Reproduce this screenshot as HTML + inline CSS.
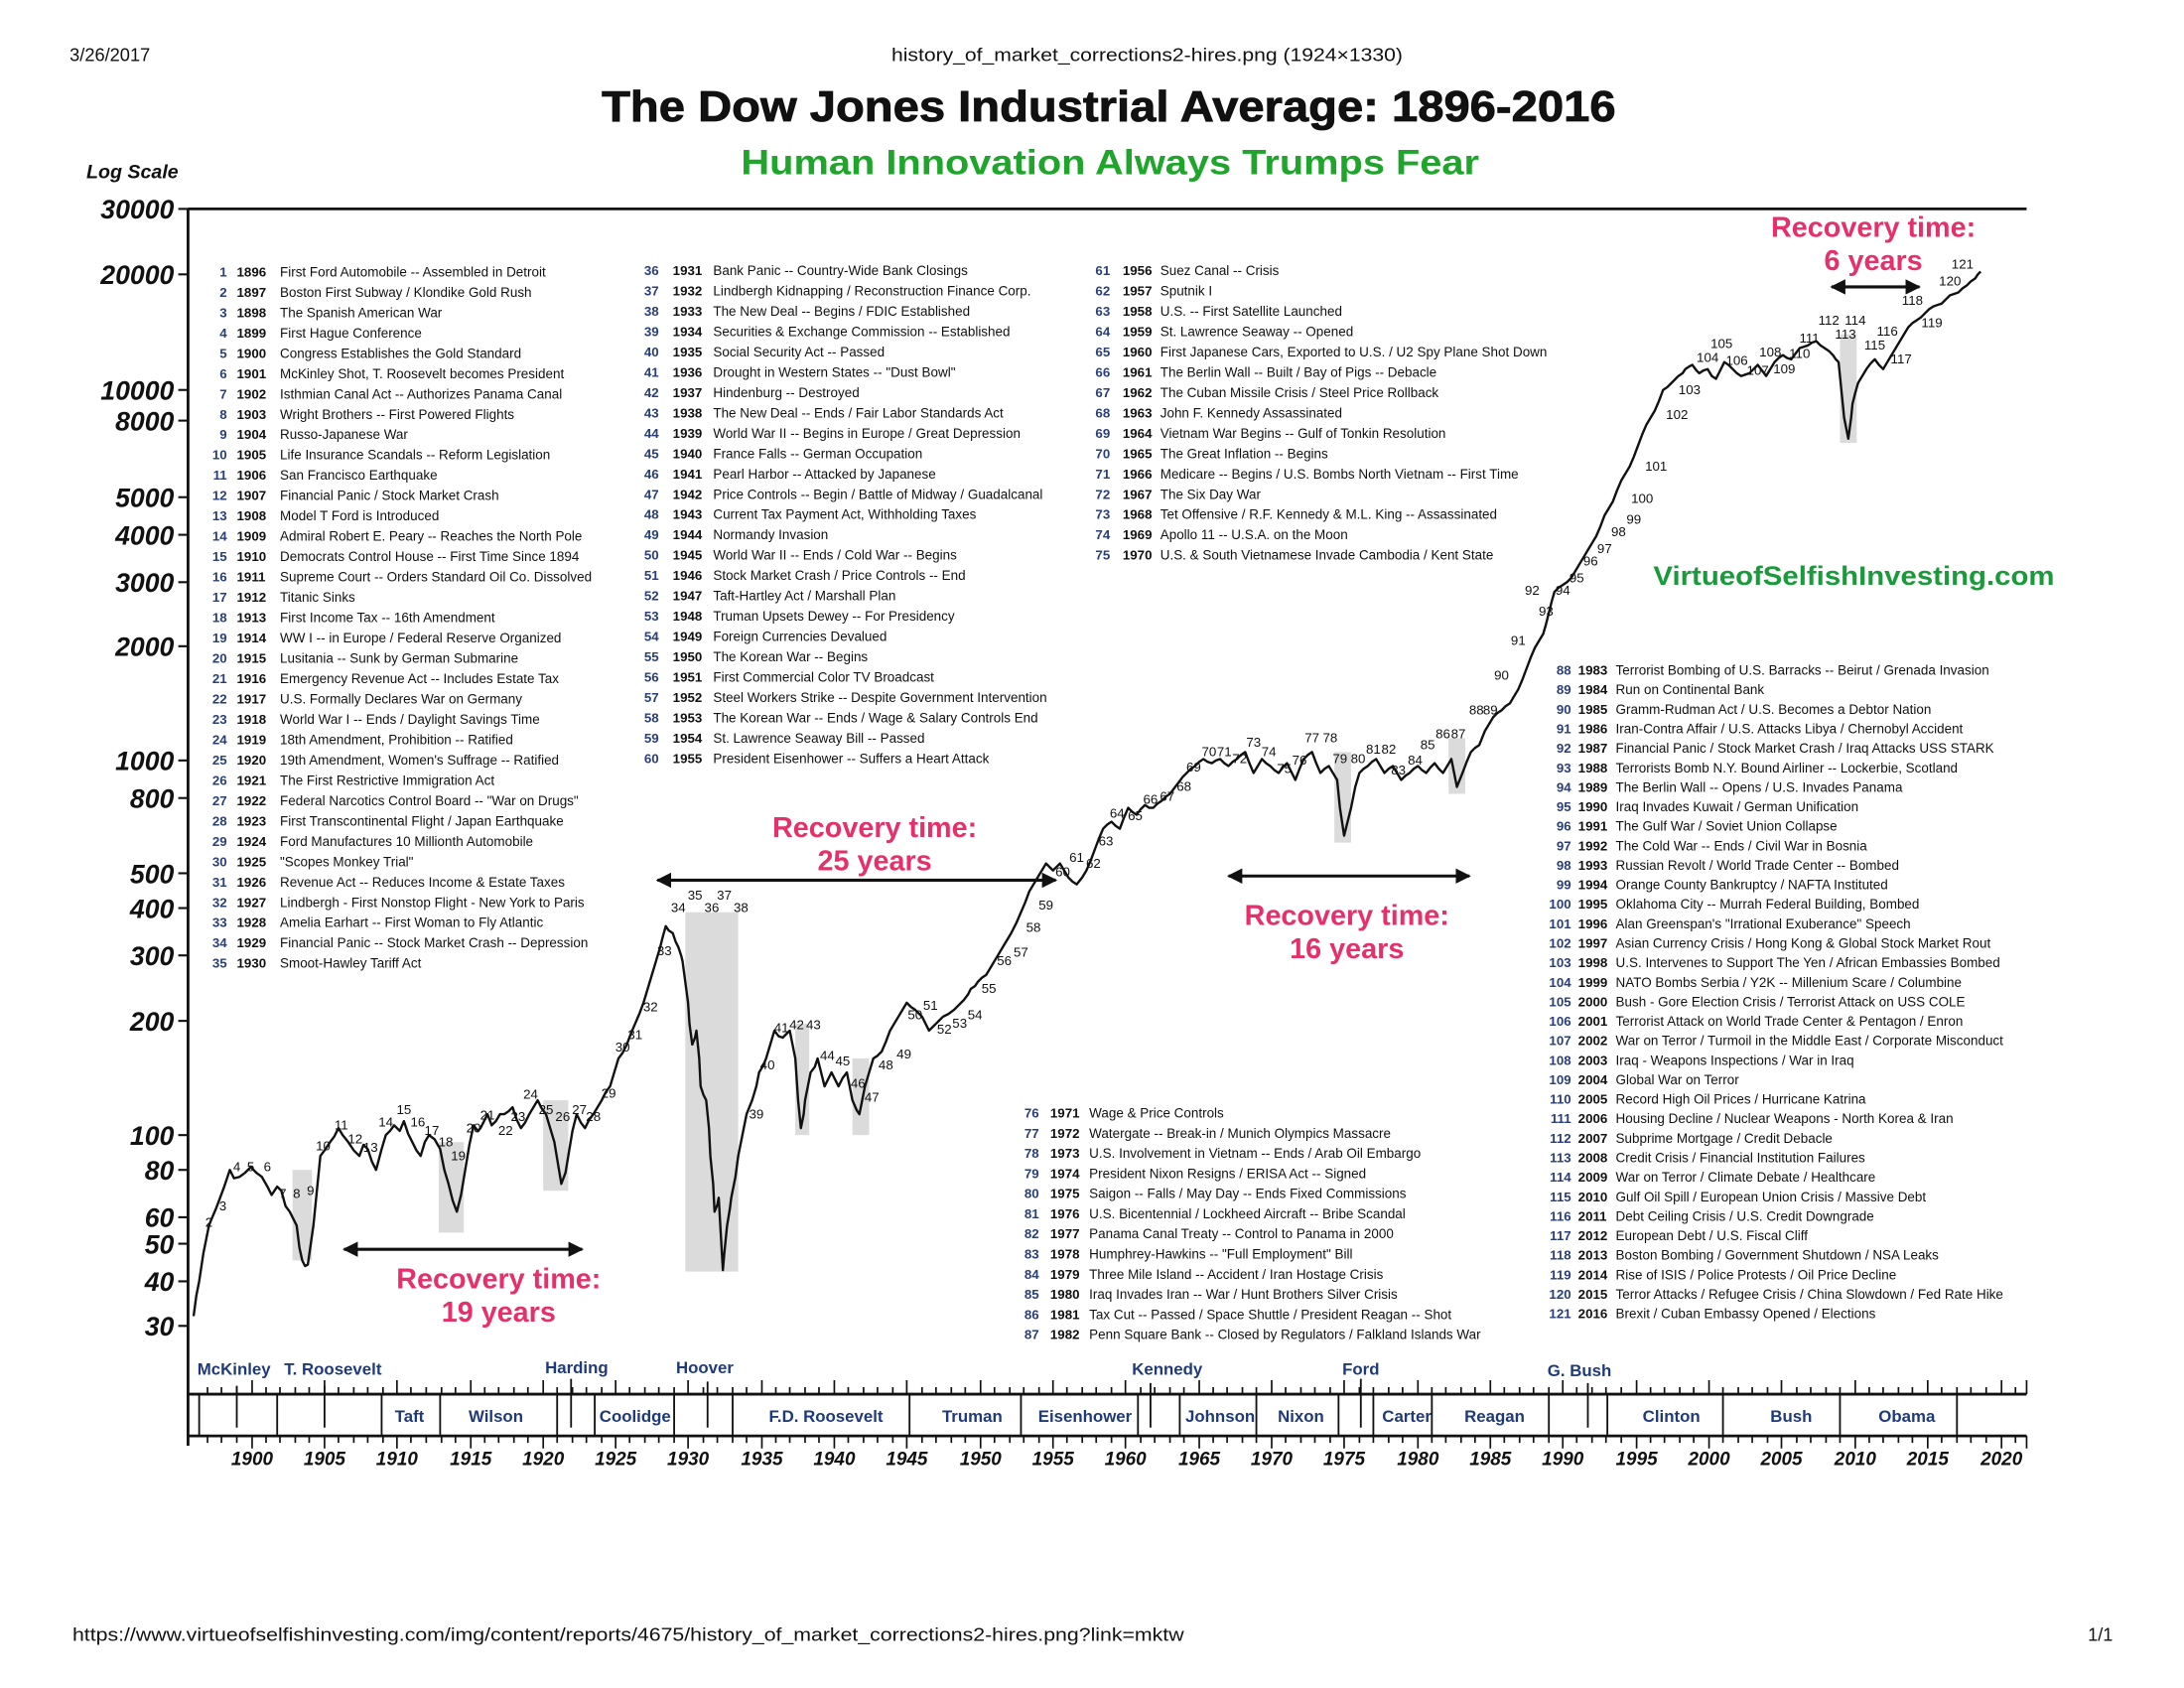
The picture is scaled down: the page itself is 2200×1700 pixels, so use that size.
<!DOCTYPE html>
<html><head><meta charset="utf-8"><style>
html,body{margin:0;padding:0;background:#fff;}
svg{display:block;font-family:"Liberation Sans",Arial,sans-serif;}
.n{font-size:9.5px;font-weight:bold;fill:#2a3f7a;}
.yr{font-size:9.5px;font-weight:bold;fill:#111;}
.tx{font-size:9.6px;fill:#111;}
.ev{font-size:9.5px;fill:#111;}
.rec{font-size:20.5px;font-weight:bold;fill:#e5306a;text-anchor:middle;}
.yt{font-size:19px;font-weight:bold;font-style:italic;fill:#111;text-anchor:end;}
.xt{font-size:13.5px;font-weight:bold;font-style:italic;fill:#111;text-anchor:middle;}
.pr{font-size:12px;font-weight:bold;fill:#1f3a7a;text-anchor:middle;}
</style></head><body>
<svg width="2200" height="1700" viewBox="0 0 1568 1212" preserveAspectRatio="none" xmlns="http://www.w3.org/2000/svg">
<rect width="1568" height="1212" fill="#fff"/>
<text x="50" y="44" font-size="13" fill="#111">3/26/2017</text>
<text x="640" y="44" font-size="13" fill="#111" textLength="367" lengthAdjust="spacingAndGlyphs">history_of_market_corrections2-hires.png (1924×1330)</text>
<text x="52" y="1178" font-size="13" fill="#111" textLength="798" lengthAdjust="spacingAndGlyphs">https://www.virtueofselfishinvesting.com/img/content/reports/4675/history_of_market_corrections2-hires.png?link=mktw</text>
<text x="1517" y="1178" font-size="13" fill="#111" text-anchor="end">1/1</text>

<text x="432" y="87" font-size="31" font-weight="bold" fill="#111" stroke="#111" stroke-width="0.6" textLength="728" lengthAdjust="spacingAndGlyphs">The Dow Jones Industrial Average: 1896-2016</text>
<text x="532" y="125" font-size="25" font-weight="bold" fill="#1fa52b" textLength="530" lengthAdjust="spacingAndGlyphs">Human Innovation Always Trumps Fear</text>
<text x="62" y="128" font-size="14" font-weight="bold" font-style="italic" fill="#111">Log Scale</text>

<g fill="#ccc" opacity="0.7">
<rect x="210" y="840" width="14" height="65"/>
<rect x="315" y="820" width="18" height="65"/>
<rect x="390" y="790" width="18" height="65"/>
<rect x="492" y="655" width="38" height="258"/>
<rect x="571" y="735" width="10" height="80"/>
<rect x="612" y="760" width="12" height="55"/>
<rect x="958" y="540" width="12" height="65"/>
<rect x="1040" y="530" width="12" height="40"/>
<rect x="1321" y="240" width="12" height="78"/>
</g>

<g stroke="#111" fill="none">
<line x1="135" y1="150" x2="1455" y2="150" stroke-width="2"/>
<line x1="135" y1="150" x2="135" y2="1038" stroke-width="2"/>
<line x1="135" y1="1001" x2="1455" y2="1001" stroke-width="2"/>
<line x1="135" y1="1031" x2="1455" y2="1031" stroke-width="2"/>
</g>
<g stroke="#111" stroke-width="1.5">
<line x1="128" y1="150" x2="135" y2="150"/><line x1="128" y1="197" x2="135" y2="197"/><line x1="128" y1="280" x2="135" y2="280"/><line x1="128" y1="302" x2="135" y2="302"/><line x1="128" y1="357" x2="135" y2="357"/><line x1="128" y1="384" x2="135" y2="384"/><line x1="128" y1="418" x2="135" y2="418"/><line x1="128" y1="464" x2="135" y2="464"/><line x1="128" y1="546" x2="135" y2="546"/><line x1="128" y1="573" x2="135" y2="573"/><line x1="128" y1="627" x2="135" y2="627"/><line x1="128" y1="652" x2="135" y2="652"/><line x1="128" y1="686" x2="135" y2="686"/><line x1="128" y1="733" x2="135" y2="733"/><line x1="128" y1="815" x2="135" y2="815"/><line x1="128" y1="840" x2="135" y2="840"/><line x1="128" y1="874" x2="135" y2="874"/><line x1="128" y1="893" x2="135" y2="893"/><line x1="128" y1="920" x2="135" y2="920"/><line x1="128" y1="952" x2="135" y2="952"/>
</g>
<g class="yt">
<text class="yt" x="125" y="157">30000</text><text class="yt" x="125" y="204">20000</text><text class="yt" x="125" y="287">10000</text><text class="yt" x="125" y="309">8000</text><text class="yt" x="125" y="364">5000</text><text class="yt" x="125" y="391">4000</text><text class="yt" x="125" y="425">3000</text><text class="yt" x="125" y="471">2000</text><text class="yt" x="125" y="553">1000</text><text class="yt" x="125" y="580">800</text><text class="yt" x="125" y="634">500</text><text class="yt" x="125" y="659">400</text><text class="yt" x="125" y="693">300</text><text class="yt" x="125" y="740">200</text><text class="yt" x="125" y="822">100</text><text class="yt" x="125" y="847">80</text><text class="yt" x="125" y="881">60</text><text class="yt" x="125" y="900">50</text><text class="yt" x="125" y="927">40</text><text class="yt" x="125" y="959">30</text>
</g>

<path stroke="#111" stroke-width="1.2" fill="none" d="
M149 1001v-5M159 1001v-5M170 1001v-5M191 1001v-5M201 1001v-5M212 1001v-5M222 1001v-5M243 1001v-5M254 1001v-5M264 1001v-5M275 1001v-5M295 1001v-5M306 1001v-5M317 1001v-5M327 1001v-5M348 1001v-5M358 1001v-5M369 1001v-5M379 1001v-5M400 1001v-5M411 1001v-5M421 1001v-5M432 1001v-5M452 1001v-5M463 1001v-5M473 1001v-5M484 1001v-5M505 1001v-5M515 1001v-5M526 1001v-5M536 1001v-5M557 1001v-5M567 1001v-5M578 1001v-5M588 1001v-5M609 1001v-5M620 1001v-5M630 1001v-5M641 1001v-5M662 1001v-5M672 1001v-5M683 1001v-5M693 1001v-5M714 1001v-5M725 1001v-5M735 1001v-5M746 1001v-5M766 1001v-5M777 1001v-5M787 1001v-5M798 1001v-5M819 1001v-5M829 1001v-5M840 1001v-5M850 1001v-5M871 1001v-5M881 1001v-5M892 1001v-5M902 1001v-5M923 1001v-5M934 1001v-5M944 1001v-5M955 1001v-5M976 1001v-5M986 1001v-5M997 1001v-5M1007 1001v-5M1028 1001v-5M1038 1001v-5M1049 1001v-5M1059 1001v-5M1080 1001v-5M1091 1001v-5M1101 1001v-5M1112 1001v-5M1132 1001v-5M1143 1001v-5M1153 1001v-5M1164 1001v-5M1185 1001v-5M1195 1001v-5M1206 1001v-5M1216 1001v-5M1237 1001v-5M1248 1001v-5M1258 1001v-5M1269 1001v-5M1290 1001v-5M1300 1001v-5M1311 1001v-5M1321 1001v-5M1342 1001v-5M1352 1001v-5M1363 1001v-5M1373 1001v-5M1394 1001v-5M1405 1001v-5M1415 1001v-5M1426 1001v-5M1447 1001v-5
M181 1001v-10M233 1001v-10M285 1001v-10M338 1001v-10M390 1001v-10M442 1001v-10M494 1001v-10M547 1001v-10M599 1001v-10M651 1001v-10M704 1001v-10M756 1001v-10M808 1001v-10M861 1001v-10M913 1001v-10M965 1001v-10M1018 1001v-10M1070 1001v-10M1122 1001v-10M1175 1001v-10M1227 1001v-10M1279 1001v-10M1332 1001v-10M1384 1001v-10M1437 1001v-10
M149 1031v5M159 1031v5M170 1031v5M191 1031v5M201 1031v5M212 1031v5M222 1031v5M243 1031v5M254 1031v5M264 1031v5M275 1031v5M295 1031v5M306 1031v5M317 1031v5M327 1031v5M348 1031v5M358 1031v5M369 1031v5M379 1031v5M400 1031v5M411 1031v5M421 1031v5M432 1031v5M452 1031v5M463 1031v5M473 1031v5M484 1031v5M505 1031v5M515 1031v5M526 1031v5M536 1031v5M557 1031v5M567 1031v5M578 1031v5M588 1031v5M609 1031v5M620 1031v5M630 1031v5M641 1031v5M662 1031v5M672 1031v5M683 1031v5M693 1031v5M714 1031v5M725 1031v5M735 1031v5M746 1031v5M766 1031v5M777 1031v5M787 1031v5M798 1031v5M819 1031v5M829 1031v5M840 1031v5M850 1031v5M871 1031v5M881 1031v5M892 1031v5M902 1031v5M923 1031v5M934 1031v5M944 1031v5M955 1031v5M976 1031v5M986 1031v5M997 1031v5M1007 1031v5M1028 1031v5M1038 1031v5M1049 1031v5M1059 1031v5M1080 1031v5M1091 1031v5M1101 1031v5M1112 1031v5M1132 1031v5M1143 1031v5M1153 1031v5M1164 1031v5M1185 1031v5M1195 1031v5M1206 1031v5M1216 1031v5M1237 1031v5M1248 1031v5M1258 1031v5M1269 1031v5M1290 1031v5M1300 1031v5M1311 1031v5M1321 1031v5M1342 1031v5M1352 1031v5M1363 1031v5M1373 1031v5M1394 1031v5M1405 1031v5M1415 1031v5M1426 1031v5M1447 1031v5
M181 1031v9M233 1031v9M285 1031v9M338 1031v9M390 1031v9M442 1031v9M494 1031v9M547 1031v9M599 1031v9M651 1031v9M704 1031v9M756 1031v9M808 1031v9M861 1031v9M913 1031v9M965 1031v9M1018 1031v9M1070 1031v9M1122 1031v9M1175 1031v9M1227 1031v9M1279 1031v9M1332 1031v9M1384 1031v9M1437 1031v9M1455 1031v9M1455 1001v-10
"/>
<path stroke="#111" stroke-width="1.3" fill="none" d="M143 1001v30M199 1001v30M274 1001v30M316 1001v30M400 1001v30M427 1001v30M484 1001v30M526 1001v30M653 1001v30M733 1001v30M817 1001v30M847 1001v30M902 1001v30M961 1001v30M986 1001v30M1028 1001v30M1112 1001v30M1154 1001v30M1237 1001v30M1321 1001v30M1405 1001v30
M170 995v30M233 995v30M410 990v35M508 992v33M826 993v32M977 990v35M1140 993v32"/>
<g class="pr">
<text x="168" y="987">McKinley</text><text x="239" y="987">T. Roosevelt</text><text x="414" y="986">Harding</text><text x="506" y="986">Hoover</text><text x="838" y="987">Kennedy</text><text x="977" y="987">Ford</text><text x="1134" y="988">G. Bush</text>
<text x="294" y="1021">Taft</text><text x="356" y="1021">Wilson</text><text x="456" y="1021">Coolidge</text><text x="593" y="1021">F.D. Roosevelt</text><text x="698" y="1021">Truman</text><text x="779" y="1021">Eisenhower</text><text x="876" y="1021">Johnson</text><text x="934" y="1021">Nixon</text><text x="1010" y="1021">Carter</text><text x="1073" y="1021">Reagan</text><text x="1200" y="1021">Clinton</text><text x="1286" y="1021">Bush</text><text x="1369" y="1021">Obama</text>
</g>
<g class="xt">
<text x="181" y="1052">1900</text><text x="233" y="1052">1905</text><text x="285" y="1052">1910</text><text x="338" y="1052">1915</text><text x="390" y="1052">1920</text><text x="442" y="1052">1925</text><text x="494" y="1052">1930</text><text x="547" y="1052">1935</text><text x="599" y="1052">1940</text><text x="651" y="1052">1945</text><text x="704" y="1052">1950</text><text x="756" y="1052">1955</text><text x="808" y="1052">1960</text><text x="861" y="1052">1965</text><text x="913" y="1052">1970</text><text x="965" y="1052">1975</text><text x="1018" y="1052">1980</text><text x="1070" y="1052">1985</text><text x="1122" y="1052">1990</text><text x="1175" y="1052">1995</text><text x="1227" y="1052">2000</text><text x="1279" y="1052">2005</text><text x="1332" y="1052">2010</text><text x="1384" y="1052">2015</text><text x="1437" y="1052">2020</text>
</g>

<polyline fill="none" stroke="#111" stroke-width="1.7" stroke-linejoin="round" points="139,945 141,930 143,920 146,900 148,890 150,880 152,875 155,868 158,860 161,852 165,840 168,846 172,845 176,842 180,838 184,842 188,845 192,852 195,858 199,852 202,855 205,866 208,870 211,876 213,880 215,896 217,905 219,909 221,908 223,894 225,880 227,860 230,830 233,826 237,820 240,816 243,810 246,815 250,820 254,826 258,830 261,822 264,825 267,834 270,840 274,825 277,815 280,812 283,808 287,812 290,805 293,814 296,820 299,826 302,830 305,820 308,815 312,818 316,825 319,840 322,850 325,862 328,870 331,858 334,840 337,822 340,808 343,812 345,810 348,804 350,800 353,808 356,805 359,800 362,800 365,798 368,795 371,804 374,810 377,806 380,800 383,795 386,790 389,796 392,800 395,810 398,820 401,838 403,850 406,842 408,830 411,812 414,800 417,806 420,810 423,804 426,800 429,795 432,790 435,784 438,780 441,770 444,760 447,756 450,750 453,742 456,735 459,728 462,720 465,710 468,700 471,690 474,680 476,672 478,665 480,668 483,670 485,676 487,680 489,686 490,690 492,705 494,720 495,735 497,750 499,745 500,740 502,760 503,780 505,786 507,790 509,810 510,830 512,850 513,870 515,865 516,860 518,895 519,912 520,900 522,880 524,868 525,860 528,845 530,830 533,815 536,800 538,795 540,790 543,780 545,770 548,765 550,760 553,750 556,740 559,744 562,745 565,742 567,740 569,750 571,760 573,790 575,810 577,800 578,790 580,780 582,770 585,766 587,760 590,772 592,780 595,774 597,770 600,776 602,780 605,774 608,770 610,780 612,790 615,797 617,800 619,790 621,780 624,770 627,760 630,758 633,755 636,748 639,740 642,735 645,730 648,725 651,720 654,723 657,725 660,728 662,730 665,736 667,740 670,737 672,735 675,732 677,730 681,728 685,725 688,722 692,718 695,714 697,710 700,708 702,705 705,702 708,700 711,695 714,690 717,685 720,680 723,675 726,670 730,662 733,655 736,648 739,640 742,635 745,630 748,625 751,620 754,623 756,625 759,622 761,620 764,625 767,630 770,633 773,635 777,630 780,625 783,618 786,610 789,602 792,595 795,592 798,590 801,593 804,595 807,587 810,580 813,583 816,585 819,581 822,578 825,580 828,580 831,577 834,575 837,572 840,570 843,566 846,562 849,558 852,555 855,552 858,550 861,547 864,545 867,547 870,548 873,546 876,545 879,548 882,550 885,547 888,545 891,542 894,540 897,548 900,555 903,550 906,545 909,548 912,550 915,553 918,555 921,551 924,548 927,554 930,560 933,552 936,545 939,542 942,540 945,548 948,555 951,552 954,550 957,555 960,560 962,580 965,600 967,592 970,580 973,565 976,555 979,552 982,550 985,547 988,545 991,550 994,555 997,552 1000,550 1003,555 1006,560 1009,557 1012,555 1015,552 1018,550 1021,553 1024,555 1027,551 1030,548 1033,552 1036,555 1039,550 1042,545 1044,555 1046,565 1048,560 1050,555 1053,547 1056,540 1059,537 1062,535 1064,530 1066,525 1069,520 1072,515 1075,512 1078,510 1081,507 1084,505 1087,500 1090,495 1093,488 1096,480 1099,472 1102,465 1105,460 1108,455 1110,448 1112,440 1114,432 1116,425 1119,422 1122,420 1125,418 1128,415 1131,410 1134,405 1137,400 1140,395 1143,390 1146,385 1149,378 1152,370 1155,365 1158,360 1161,352 1164,345 1167,340 1170,335 1173,328 1176,320 1179,312 1182,305 1185,300 1188,295 1191,288 1194,280 1197,278 1200,275 1203,272 1205,270 1208,268 1210,265 1213,263 1215,262 1218,266 1220,268 1223,266 1226,265 1229,270 1232,272 1235,266 1238,260 1241,262 1244,265 1247,268 1250,270 1253,269 1256,268 1259,265 1262,262 1265,266 1268,270 1271,265 1274,260 1277,257 1280,255 1283,257 1286,258 1289,254 1292,250 1295,249 1298,248 1301,246 1304,245 1307,248 1310,250 1313,252 1316,255 1318,258 1320,260 1322,280 1324,300 1326,310 1327,315 1329,300 1330,290 1332,282 1334,275 1337,270 1340,265 1343,261 1346,258 1349,262 1352,265 1355,260 1358,255 1361,250 1364,245 1367,240 1370,235 1373,232 1376,230 1379,228 1382,225 1385,222 1388,220 1391,219 1394,218 1397,215 1400,212 1403,211 1406,210 1409,207 1412,205 1415,202 1418,200 1420,197 1422,195"/>

<g class="ev" text-anchor="middle">
<text x="150" y="881">2</text><text x="160" y="869">3</text><text x="170" y="841">4</text><text x="180" y="841">5</text><text x="192" y="841">6</text><text x="203" y="860">7</text><text x="213" y="860">8</text><text x="223" y="858">9</text><text x="232" y="826">10</text><text x="245" y="811">11</text><text x="255" y="821">12</text><text x="266" y="827">13</text><text x="277" y="809">14</text><text x="290" y="800">15</text><text x="300" y="809">16</text><text x="310" y="815">17</text><text x="320" y="823">18</text><text x="329" y="833">19</text><text x="340" y="813">20</text><text x="350" y="804">21</text><text x="363" y="815">22</text><text x="372" y="805">23</text><text x="381" y="789">24</text><text x="392" y="800">25</text><text x="404" y="805">26</text><text x="416" y="800">27</text><text x="426" y="805">28</text><text x="437" y="788">29</text><text x="447" y="755">30</text><text x="456" y="746">31</text><text x="467" y="726">32</text><text x="477" y="686">33</text><text x="487" y="655">34</text><text x="499" y="646">35</text><text x="511" y="655">36</text><text x="520" y="646">37</text><text x="532" y="655">38</text><text x="543" y="803">39</text><text x="551" y="768">40</text><text x="561" y="741">41</text><text x="572" y="739">42</text><text x="584" y="739">43</text><text x="594" y="761">44</text><text x="605" y="765">45</text><text x="616" y="781">46</text><text x="626" y="791">47</text><text x="636" y="768">48</text><text x="649" y="760">49</text><text x="657" y="732">50</text><text x="668" y="725">51</text><text x="678" y="742">52</text><text x="689" y="738">53</text><text x="700" y="732">54</text><text x="710" y="713">55</text><text x="721" y="693">56</text><text x="733" y="687">57</text><text x="742" y="669">58</text><text x="751" y="653">59</text><text x="763" y="629">60</text><text x="773" y="619">61</text><text x="785" y="623">62</text><text x="794" y="607">63</text><text x="802" y="587">64</text><text x="815" y="589">65</text><text x="826" y="577">66</text><text x="838" y="575">67</text><text x="850" y="568">68</text><text x="857" y="554">69</text><text x="868" y="543">70</text><text x="879" y="543">71</text><text x="890" y="548">72</text><text x="900" y="536">73</text><text x="911" y="543">74</text><text x="922" y="555">75</text><text x="933" y="549">76</text><text x="942" y="533">77</text><text x="955" y="533">78</text><text x="962" y="548">79</text><text x="975" y="548">80</text><text x="986" y="541">81</text><text x="997" y="541">82</text><text x="1004" y="556">83</text><text x="1016" y="549">84</text><text x="1025" y="538">85</text><text x="1036" y="530">86</text><text x="1047" y="530">87</text><text x="1060" y="513">88</text><text x="1070" y="513">89</text><text x="1078" y="488">90</text><text x="1090" y="463">91</text><text x="1100" y="427">92</text><text x="1110" y="442">93</text><text x="1122" y="427">94</text><text x="1132" y="418">95</text><text x="1142" y="406">96</text><text x="1152" y="397">97</text><text x="1162" y="385">98</text><text x="1173" y="376">99</text><text x="1179" y="361">100</text><text x="1189" y="338">101</text><text x="1204" y="301">102</text><text x="1213" y="283">103</text><text x="1226" y="260">104</text><text x="1236" y="250">105</text><text x="1247" y="262">106</text><text x="1262" y="269">107</text><text x="1271" y="256">108</text><text x="1281" y="268">109</text><text x="1292" y="257">110</text><text x="1299" y="246">111</text><text x="1313" y="233">112</text><text x="1325" y="243">113</text><text x="1332" y="233">114</text><text x="1346" y="251">115</text><text x="1355" y="241">116</text><text x="1365" y="261">117</text><text x="1373" y="219">118</text><text x="1387" y="235">119</text><text x="1400" y="205">120</text><text x="1409" y="193">121</text>
</g>

<defs><marker id="ah" markerWidth="5" markerHeight="5" refX="4.5" refY="2.5" orient="auto-start-reverse" markerUnits="strokeWidth"><path d="M0,0 L5,2.5 L0,5 z" fill="#111"/></marker></defs>
<g stroke="#111" stroke-width="2.2">
<line x1="247" y1="897" x2="418" y2="897" marker-start="url(#ah)" marker-end="url(#ah)"/>
<line x1="472" y1="632" x2="758" y2="632" marker-start="url(#ah)" marker-end="url(#ah)"/>
<line x1="882" y1="629" x2="1055" y2="629" marker-start="url(#ah)" marker-end="url(#ah)"/>
<line x1="1315" y1="206" x2="1378" y2="206" marker-start="url(#ah)" marker-end="url(#ah)"/>
</g>
<text class="rec" x="358" y="925">Recovery time:</text><text class="rec" x="358" y="949">19 years</text>
<text class="rec" x="628" y="601">Recovery time:</text><text class="rec" x="628" y="625">25 years</text>
<text class="rec" x="967" y="664">Recovery time:</text><text class="rec" x="967" y="688">16 years</text>
<text class="rec" x="1345" y="170">Recovery time:</text><text class="rec" x="1345" y="194">6 years</text>
<text x="1187" y="420" font-size="19" font-weight="bold" fill="#1a9a3a" textLength="288" lengthAdjust="spacingAndGlyphs">VirtueofSelfishInvesting.com</text>

<text class="n" text-anchor="end"><tspan x="163" y="198.5">1</tspan><tspan x="163" dy="14.6">2</tspan><tspan x="163" dy="14.6">3</tspan><tspan x="163" dy="14.6">4</tspan><tspan x="163" dy="14.6">5</tspan><tspan x="163" dy="14.6">6</tspan><tspan x="163" dy="14.6">7</tspan><tspan x="163" dy="14.6">8</tspan><tspan x="163" dy="14.6">9</tspan><tspan x="163" dy="14.6">10</tspan><tspan x="163" dy="14.6">11</tspan><tspan x="163" dy="14.6">12</tspan><tspan x="163" dy="14.6">13</tspan><tspan x="163" dy="14.6">14</tspan><tspan x="163" dy="14.6">15</tspan><tspan x="163" dy="14.6">16</tspan><tspan x="163" dy="14.6">17</tspan><tspan x="163" dy="14.6">18</tspan><tspan x="163" dy="14.6">19</tspan><tspan x="163" dy="14.6">20</tspan><tspan x="163" dy="14.6">21</tspan><tspan x="163" dy="14.6">22</tspan><tspan x="163" dy="14.6">23</tspan><tspan x="163" dy="14.6">24</tspan><tspan x="163" dy="14.6">25</tspan><tspan x="163" dy="14.6">26</tspan><tspan x="163" dy="14.6">27</tspan><tspan x="163" dy="14.6">28</tspan><tspan x="163" dy="14.6">29</tspan><tspan x="163" dy="14.6">30</tspan><tspan x="163" dy="14.6">31</tspan><tspan x="163" dy="14.6">32</tspan><tspan x="163" dy="14.6">33</tspan><tspan x="163" dy="14.6">34</tspan><tspan x="163" dy="14.6">35</tspan></text>
<text class="yr"><tspan x="170" y="198.5">1896</tspan><tspan x="170" dy="14.6">1897</tspan><tspan x="170" dy="14.6">1898</tspan><tspan x="170" dy="14.6">1899</tspan><tspan x="170" dy="14.6">1900</tspan><tspan x="170" dy="14.6">1901</tspan><tspan x="170" dy="14.6">1902</tspan><tspan x="170" dy="14.6">1903</tspan><tspan x="170" dy="14.6">1904</tspan><tspan x="170" dy="14.6">1905</tspan><tspan x="170" dy="14.6">1906</tspan><tspan x="170" dy="14.6">1907</tspan><tspan x="170" dy="14.6">1908</tspan><tspan x="170" dy="14.6">1909</tspan><tspan x="170" dy="14.6">1910</tspan><tspan x="170" dy="14.6">1911</tspan><tspan x="170" dy="14.6">1912</tspan><tspan x="170" dy="14.6">1913</tspan><tspan x="170" dy="14.6">1914</tspan><tspan x="170" dy="14.6">1915</tspan><tspan x="170" dy="14.6">1916</tspan><tspan x="170" dy="14.6">1917</tspan><tspan x="170" dy="14.6">1918</tspan><tspan x="170" dy="14.6">1919</tspan><tspan x="170" dy="14.6">1920</tspan><tspan x="170" dy="14.6">1921</tspan><tspan x="170" dy="14.6">1922</tspan><tspan x="170" dy="14.6">1923</tspan><tspan x="170" dy="14.6">1924</tspan><tspan x="170" dy="14.6">1925</tspan><tspan x="170" dy="14.6">1926</tspan><tspan x="170" dy="14.6">1927</tspan><tspan x="170" dy="14.6">1928</tspan><tspan x="170" dy="14.6">1929</tspan><tspan x="170" dy="14.6">1930</tspan></text>
<text class="tx"><tspan x="201" y="198.5">First Ford Automobile -- Assembled in Detroit</tspan><tspan x="201" dy="14.6">Boston First Subway / Klondike Gold Rush</tspan><tspan x="201" dy="14.6">The Spanish American War</tspan><tspan x="201" dy="14.6">First Hague Conference</tspan><tspan x="201" dy="14.6">Congress Establishes the Gold Standard</tspan><tspan x="201" dy="14.6">McKinley Shot, T. Roosevelt becomes President</tspan><tspan x="201" dy="14.6">Isthmian Canal Act -- Authorizes Panama Canal</tspan><tspan x="201" dy="14.6">Wright Brothers -- First Powered Flights</tspan><tspan x="201" dy="14.6">Russo-Japanese War</tspan><tspan x="201" dy="14.6">Life Insurance Scandals -- Reform Legislation</tspan><tspan x="201" dy="14.6">San Francisco Earthquake</tspan><tspan x="201" dy="14.6">Financial Panic / Stock Market Crash</tspan><tspan x="201" dy="14.6">Model T Ford is Introduced</tspan><tspan x="201" dy="14.6">Admiral Robert E. Peary -- Reaches the North Pole</tspan><tspan x="201" dy="14.6">Democrats Control House -- First Time Since 1894</tspan><tspan x="201" dy="14.6">Supreme Court -- Orders Standard Oil Co. Dissolved</tspan><tspan x="201" dy="14.6">Titanic Sinks</tspan><tspan x="201" dy="14.6">First Income Tax -- 16th Amendment</tspan><tspan x="201" dy="14.6">WW I -- in Europe / Federal Reserve Organized</tspan><tspan x="201" dy="14.6">Lusitania -- Sunk by German Submarine</tspan><tspan x="201" dy="14.6">Emergency Revenue Act -- Includes Estate Tax</tspan><tspan x="201" dy="14.6">U.S. Formally Declares War on Germany</tspan><tspan x="201" dy="14.6">World War I -- Ends / Daylight Savings Time</tspan><tspan x="201" dy="14.6">18th Amendment, Prohibition -- Ratified</tspan><tspan x="201" dy="14.6">19th Amendment, Women's Suffrage -- Ratified</tspan><tspan x="201" dy="14.6">The First Restrictive Immigration Act</tspan><tspan x="201" dy="14.6">Federal Narcotics Control Board -- "War on Drugs"</tspan><tspan x="201" dy="14.6">First Transcontinental Flight / Japan Earthquake</tspan><tspan x="201" dy="14.6">Ford Manufactures 10 Millionth Automobile</tspan><tspan x="201" dy="14.6">"Scopes Monkey Trial"</tspan><tspan x="201" dy="14.6">Revenue Act -- Reduces Income &amp; Estate Taxes</tspan><tspan x="201" dy="14.6">Lindbergh - First Nonstop Flight - New York to Paris</tspan><tspan x="201" dy="14.6">Amelia Earhart -- First Woman to Fly Atlantic</tspan><tspan x="201" dy="14.6">Financial Panic -- Stock Market Crash -- Depression</tspan><tspan x="201" dy="14.6">Smoot-Hawley Tariff Act</tspan></text>

<text class="n" text-anchor="end"><tspan x="473" y="197.5">36</tspan><tspan x="473" dy="14.6">37</tspan><tspan x="473" dy="14.6">38</tspan><tspan x="473" dy="14.6">39</tspan><tspan x="473" dy="14.6">40</tspan><tspan x="473" dy="14.6">41</tspan><tspan x="473" dy="14.6">42</tspan><tspan x="473" dy="14.6">43</tspan><tspan x="473" dy="14.6">44</tspan><tspan x="473" dy="14.6">45</tspan><tspan x="473" dy="14.6">46</tspan><tspan x="473" dy="14.6">47</tspan><tspan x="473" dy="14.6">48</tspan><tspan x="473" dy="14.6">49</tspan><tspan x="473" dy="14.6">50</tspan><tspan x="473" dy="14.6">51</tspan><tspan x="473" dy="14.6">52</tspan><tspan x="473" dy="14.6">53</tspan><tspan x="473" dy="14.6">54</tspan><tspan x="473" dy="14.6">55</tspan><tspan x="473" dy="14.6">56</tspan><tspan x="473" dy="14.6">57</tspan><tspan x="473" dy="14.6">58</tspan><tspan x="473" dy="14.6">59</tspan><tspan x="473" dy="14.6">60</tspan></text>
<text class="yr"><tspan x="483" y="197.5">1931</tspan><tspan x="483" dy="14.6">1932</tspan><tspan x="483" dy="14.6">1933</tspan><tspan x="483" dy="14.6">1934</tspan><tspan x="483" dy="14.6">1935</tspan><tspan x="483" dy="14.6">1936</tspan><tspan x="483" dy="14.6">1937</tspan><tspan x="483" dy="14.6">1938</tspan><tspan x="483" dy="14.6">1939</tspan><tspan x="483" dy="14.6">1940</tspan><tspan x="483" dy="14.6">1941</tspan><tspan x="483" dy="14.6">1942</tspan><tspan x="483" dy="14.6">1943</tspan><tspan x="483" dy="14.6">1944</tspan><tspan x="483" dy="14.6">1945</tspan><tspan x="483" dy="14.6">1946</tspan><tspan x="483" dy="14.6">1947</tspan><tspan x="483" dy="14.6">1948</tspan><tspan x="483" dy="14.6">1949</tspan><tspan x="483" dy="14.6">1950</tspan><tspan x="483" dy="14.6">1951</tspan><tspan x="483" dy="14.6">1952</tspan><tspan x="483" dy="14.6">1953</tspan><tspan x="483" dy="14.6">1954</tspan><tspan x="483" dy="14.6">1955</tspan></text>
<text class="tx"><tspan x="512" y="197.5">Bank Panic -- Country-Wide Bank Closings</tspan><tspan x="512" dy="14.6">Lindbergh Kidnapping / Reconstruction Finance Corp.</tspan><tspan x="512" dy="14.6">The New Deal -- Begins / FDIC Established</tspan><tspan x="512" dy="14.6">Securities &amp; Exchange Commission -- Established</tspan><tspan x="512" dy="14.6">Social Security Act -- Passed</tspan><tspan x="512" dy="14.6">Drought in Western States -- "Dust Bowl"</tspan><tspan x="512" dy="14.6">Hindenburg -- Destroyed</tspan><tspan x="512" dy="14.6">The New Deal -- Ends / Fair Labor Standards Act</tspan><tspan x="512" dy="14.6">World War II -- Begins in Europe / Great Depression</tspan><tspan x="512" dy="14.6">France Falls -- German Occupation</tspan><tspan x="512" dy="14.6">Pearl Harbor -- Attacked by Japanese</tspan><tspan x="512" dy="14.6">Price Controls -- Begin / Battle of Midway / Guadalcanal</tspan><tspan x="512" dy="14.6">Current Tax Payment Act, Withholding Taxes</tspan><tspan x="512" dy="14.6">Normandy Invasion</tspan><tspan x="512" dy="14.6">World War II -- Ends / Cold War -- Begins</tspan><tspan x="512" dy="14.6">Stock Market Crash / Price Controls -- End</tspan><tspan x="512" dy="14.6">Taft-Hartley Act / Marshall Plan</tspan><tspan x="512" dy="14.6">Truman Upsets Dewey -- For Presidency</tspan><tspan x="512" dy="14.6">Foreign Currencies Devalued</tspan><tspan x="512" dy="14.6">The Korean War -- Begins</tspan><tspan x="512" dy="14.6">First Commercial Color TV Broadcast</tspan><tspan x="512" dy="14.6">Steel Workers Strike -- Despite Government Intervention</tspan><tspan x="512" dy="14.6">The Korean War -- Ends / Wage &amp; Salary Controls End</tspan><tspan x="512" dy="14.6">St. Lawrence Seaway Bill -- Passed</tspan><tspan x="512" dy="14.6">President Eisenhower -- Suffers a Heart Attack</tspan></text>

<text class="n" text-anchor="end"><tspan x="797" y="197.5">61</tspan><tspan x="797" dy="14.6">62</tspan><tspan x="797" dy="14.6">63</tspan><tspan x="797" dy="14.6">64</tspan><tspan x="797" dy="14.6">65</tspan><tspan x="797" dy="14.6">66</tspan><tspan x="797" dy="14.6">67</tspan><tspan x="797" dy="14.6">68</tspan><tspan x="797" dy="14.6">69</tspan><tspan x="797" dy="14.6">70</tspan><tspan x="797" dy="14.6">71</tspan><tspan x="797" dy="14.6">72</tspan><tspan x="797" dy="14.6">73</tspan><tspan x="797" dy="14.6">74</tspan><tspan x="797" dy="14.6">75</tspan></text>
<text class="yr"><tspan x="806" y="197.5">1956</tspan><tspan x="806" dy="14.6">1957</tspan><tspan x="806" dy="14.6">1958</tspan><tspan x="806" dy="14.6">1959</tspan><tspan x="806" dy="14.6">1960</tspan><tspan x="806" dy="14.6">1961</tspan><tspan x="806" dy="14.6">1962</tspan><tspan x="806" dy="14.6">1963</tspan><tspan x="806" dy="14.6">1964</tspan><tspan x="806" dy="14.6">1965</tspan><tspan x="806" dy="14.6">1966</tspan><tspan x="806" dy="14.6">1967</tspan><tspan x="806" dy="14.6">1968</tspan><tspan x="806" dy="14.6">1969</tspan><tspan x="806" dy="14.6">1970</tspan></text>
<text class="tx"><tspan x="833" y="197.5">Suez Canal -- Crisis</tspan><tspan x="833" dy="14.6">Sputnik I</tspan><tspan x="833" dy="14.6">U.S. -- First Satellite Launched</tspan><tspan x="833" dy="14.6">St. Lawrence Seaway -- Opened</tspan><tspan x="833" dy="14.6">First Japanese Cars, Exported to U.S. / U2 Spy Plane Shot Down</tspan><tspan x="833" dy="14.6">The Berlin Wall -- Built / Bay of Pigs -- Debacle</tspan><tspan x="833" dy="14.6">The Cuban Missile Crisis / Steel Price Rollback</tspan><tspan x="833" dy="14.6">John F. Kennedy Assassinated</tspan><tspan x="833" dy="14.6">Vietnam War Begins -- Gulf of Tonkin Resolution</tspan><tspan x="833" dy="14.6">The Great Inflation -- Begins</tspan><tspan x="833" dy="14.6">Medicare -- Begins / U.S. Bombs North Vietnam -- First Time</tspan><tspan x="833" dy="14.6">The Six Day War</tspan><tspan x="833" dy="14.6">Tet Offensive / R.F. Kennedy &amp; M.L. King -- Assassinated</tspan><tspan x="833" dy="14.6">Apollo 11 -- U.S.A. on the Moon</tspan><tspan x="833" dy="14.6">U.S. &amp; South Vietnamese Invade Cambodia / Kent State</tspan></text>

<text class="n" text-anchor="end"><tspan x="746" y="802.5">76</tspan><tspan x="746" dy="14.45">77</tspan><tspan x="746" dy="14.45">78</tspan><tspan x="746" dy="14.45">79</tspan><tspan x="746" dy="14.45">80</tspan><tspan x="746" dy="14.45">81</tspan><tspan x="746" dy="14.45">82</tspan><tspan x="746" dy="14.45">83</tspan><tspan x="746" dy="14.45">84</tspan><tspan x="746" dy="14.45">85</tspan><tspan x="746" dy="14.45">86</tspan><tspan x="746" dy="14.45">87</tspan></text>
<text class="yr"><tspan x="754" y="802.5">1971</tspan><tspan x="754" dy="14.45">1972</tspan><tspan x="754" dy="14.45">1973</tspan><tspan x="754" dy="14.45">1974</tspan><tspan x="754" dy="14.45">1975</tspan><tspan x="754" dy="14.45">1976</tspan><tspan x="754" dy="14.45">1977</tspan><tspan x="754" dy="14.45">1978</tspan><tspan x="754" dy="14.45">1979</tspan><tspan x="754" dy="14.45">1980</tspan><tspan x="754" dy="14.45">1981</tspan><tspan x="754" dy="14.45">1982</tspan></text>
<text class="tx"><tspan x="782" y="802.5">Wage &amp; Price Controls</tspan><tspan x="782" dy="14.45">Watergate -- Break-in / Munich Olympics Massacre</tspan><tspan x="782" dy="14.45">U.S. Involvement in Vietnam -- Ends / Arab Oil Embargo</tspan><tspan x="782" dy="14.45">President Nixon Resigns / ERISA Act -- Signed</tspan><tspan x="782" dy="14.45">Saigon -- Falls / May Day -- Ends Fixed Commissions</tspan><tspan x="782" dy="14.45">U.S. Bicentennial / Lockheed Aircraft -- Bribe Scandal</tspan><tspan x="782" dy="14.45">Panama Canal Treaty -- Control to Panama in 2000</tspan><tspan x="782" dy="14.45">Humphrey-Hawkins -- "Full Employment" Bill</tspan><tspan x="782" dy="14.45">Three Mile Island -- Accident / Iran Hostage Crisis</tspan><tspan x="782" dy="14.45">Iraq Invades Iran -- War / Hunt Brothers Silver Crisis</tspan><tspan x="782" dy="14.45">Tax Cut -- Passed / Space Shuttle / President Reagan -- Shot</tspan><tspan x="782" dy="14.45">Penn Square Bank -- Closed by Regulators / Falkland Islands War</tspan></text>

<text class="n" text-anchor="end"><tspan x="1128" y="484.5">88</tspan><tspan x="1128" dy="14">89</tspan><tspan x="1128" dy="14">90</tspan><tspan x="1128" dy="14">91</tspan><tspan x="1128" dy="14">92</tspan><tspan x="1128" dy="14">93</tspan><tspan x="1128" dy="14">94</tspan><tspan x="1128" dy="14">95</tspan><tspan x="1128" dy="14">96</tspan><tspan x="1128" dy="14">97</tspan><tspan x="1128" dy="14">98</tspan><tspan x="1128" dy="14">99</tspan><tspan x="1128" dy="14">100</tspan><tspan x="1128" dy="14">101</tspan><tspan x="1128" dy="14">102</tspan><tspan x="1128" dy="14">103</tspan><tspan x="1128" dy="14">104</tspan><tspan x="1128" dy="14">105</tspan><tspan x="1128" dy="14">106</tspan><tspan x="1128" dy="14">107</tspan><tspan x="1128" dy="14">108</tspan><tspan x="1128" dy="14">109</tspan><tspan x="1128" dy="14">110</tspan><tspan x="1128" dy="14">111</tspan><tspan x="1128" dy="14">112</tspan><tspan x="1128" dy="14">113</tspan><tspan x="1128" dy="14">114</tspan><tspan x="1128" dy="14">115</tspan><tspan x="1128" dy="14">116</tspan><tspan x="1128" dy="14">117</tspan><tspan x="1128" dy="14">118</tspan><tspan x="1128" dy="14">119</tspan><tspan x="1128" dy="14">120</tspan><tspan x="1128" dy="14">121</tspan></text>
<text class="yr"><tspan x="1133" y="484.5">1983</tspan><tspan x="1133" dy="14">1984</tspan><tspan x="1133" dy="14">1985</tspan><tspan x="1133" dy="14">1986</tspan><tspan x="1133" dy="14">1987</tspan><tspan x="1133" dy="14">1988</tspan><tspan x="1133" dy="14">1989</tspan><tspan x="1133" dy="14">1990</tspan><tspan x="1133" dy="14">1991</tspan><tspan x="1133" dy="14">1992</tspan><tspan x="1133" dy="14">1993</tspan><tspan x="1133" dy="14">1994</tspan><tspan x="1133" dy="14">1995</tspan><tspan x="1133" dy="14">1996</tspan><tspan x="1133" dy="14">1997</tspan><tspan x="1133" dy="14">1998</tspan><tspan x="1133" dy="14">1999</tspan><tspan x="1133" dy="14">2000</tspan><tspan x="1133" dy="14">2001</tspan><tspan x="1133" dy="14">2002</tspan><tspan x="1133" dy="14">2003</tspan><tspan x="1133" dy="14">2004</tspan><tspan x="1133" dy="14">2005</tspan><tspan x="1133" dy="14">2006</tspan><tspan x="1133" dy="14">2007</tspan><tspan x="1133" dy="14">2008</tspan><tspan x="1133" dy="14">2009</tspan><tspan x="1133" dy="14">2010</tspan><tspan x="1133" dy="14">2011</tspan><tspan x="1133" dy="14">2012</tspan><tspan x="1133" dy="14">2013</tspan><tspan x="1133" dy="14">2014</tspan><tspan x="1133" dy="14">2015</tspan><tspan x="1133" dy="14">2016</tspan></text>
<text class="tx"><tspan x="1160" y="484.5">Terrorist Bombing of U.S. Barracks -- Beirut / Grenada Invasion</tspan><tspan x="1160" dy="14">Run on Continental Bank</tspan><tspan x="1160" dy="14">Gramm-Rudman Act / U.S. Becomes a Debtor Nation</tspan><tspan x="1160" dy="14">Iran-Contra Affair / U.S. Attacks Libya / Chernobyl Accident</tspan><tspan x="1160" dy="14">Financial Panic / Stock Market Crash / Iraq Attacks USS STARK</tspan><tspan x="1160" dy="14">Terrorists Bomb N.Y. Bound Airliner -- Lockerbie, Scotland</tspan><tspan x="1160" dy="14">The Berlin Wall -- Opens / U.S. Invades Panama</tspan><tspan x="1160" dy="14">Iraq Invades Kuwait / German Unification</tspan><tspan x="1160" dy="14">The Gulf War / Soviet Union Collapse</tspan><tspan x="1160" dy="14">The Cold War -- Ends / Civil War in Bosnia</tspan><tspan x="1160" dy="14">Russian Revolt / World Trade Center -- Bombed</tspan><tspan x="1160" dy="14">Orange County Bankruptcy / NAFTA Instituted</tspan><tspan x="1160" dy="14">Oklahoma City -- Murrah Federal Building, Bombed</tspan><tspan x="1160" dy="14">Alan Greenspan's "Irrational Exuberance" Speech</tspan><tspan x="1160" dy="14">Asian Currency Crisis / Hong Kong &amp; Global Stock Market Rout</tspan><tspan x="1160" dy="14">U.S. Intervenes to Support The Yen / African Embassies Bombed</tspan><tspan x="1160" dy="14">NATO Bombs Serbia / Y2K -- Millenium Scare / Columbine</tspan><tspan x="1160" dy="14">Bush - Gore Election Crisis / Terrorist Attack on USS COLE</tspan><tspan x="1160" dy="14">Terrorist Attack on World Trade Center &amp; Pentagon / Enron</tspan><tspan x="1160" dy="14">War on Terror / Turmoil in the Middle East / Corporate Misconduct</tspan><tspan x="1160" dy="14">Iraq - Weapons Inspections / War in Iraq</tspan><tspan x="1160" dy="14">Global War on Terror</tspan><tspan x="1160" dy="14">Record High Oil Prices / Hurricane Katrina</tspan><tspan x="1160" dy="14">Housing Decline / Nuclear Weapons - North Korea &amp; Iran</tspan><tspan x="1160" dy="14">Subprime Mortgage / Credit Debacle</tspan><tspan x="1160" dy="14">Credit Crisis / Financial Institution Failures</tspan><tspan x="1160" dy="14">War on Terror / Climate Debate / Healthcare</tspan><tspan x="1160" dy="14">Gulf Oil Spill / European Union Crisis / Massive Debt</tspan><tspan x="1160" dy="14">Debt Ceiling Crisis / U.S. Credit Downgrade</tspan><tspan x="1160" dy="14">European Debt / U.S. Fiscal Cliff</tspan><tspan x="1160" dy="14">Boston Bombing / Government Shutdown / NSA Leaks</tspan><tspan x="1160" dy="14">Rise of ISIS / Police Protests / Oil Price Decline</tspan><tspan x="1160" dy="14">Terror Attacks / Refugee Crisis / China Slowdown / Fed Rate Hike</tspan><tspan x="1160" dy="14">Brexit / Cuban Embassy Opened / Elections</tspan></text>
</svg>
</body></html>
